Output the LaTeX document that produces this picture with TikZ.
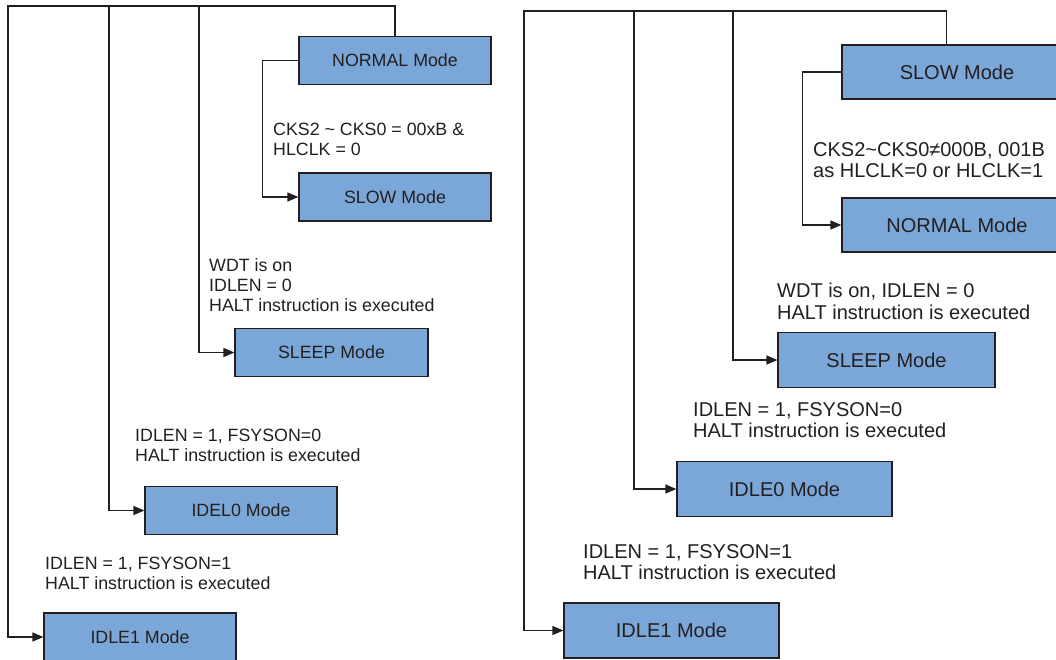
\documentclass[tikz,border=0pt]{standalone}
\usepackage{fontspec}
\setmainfont{Liberation Sans}
\usetikzlibrary{arrows.meta}
\definecolor{modeblue}{HTML}{7BA7D8}
\definecolor{ink}{HTML}{231F20}

\begin{document}
\begin{tikzpicture}[
        x=1pt, y=-1pt,
        color=ink,
        mode/.style={rectangle, draw=ink, line width=1.2pt, fill=modeblue, inner sep=0pt, align=center},
        smallmode/.style={mode, minimum width=192pt, minimum height=48pt, font=\fontsize{17.8}{20}\selectfont},
        bigmode/.style={mode, minimum height=54pt, font=\fontsize{20}{22}\selectfont},
        cond/.style={anchor=north west, inner sep=0pt, align=left},
        smallcond/.style={cond, font=\fontsize{17.8}{20}\selectfont},
        bigcond/.style={cond, font=\fontsize{20}{21.5}\selectfont},
        wire/.style={line width=1.4pt},
        arrow/.style={wire, -{Triangle[length=11pt,width=9pt]}}
    ]
    \clip (0,0) rectangle (1056,659);

    % left: mode change from NORMAL
    \node (normL) [smallmode] at (395,60.5) {NORMAL Mode};
    \node (slowL) [smallmode] at (395,197) {SLOW Mode};
    \node (sleepL) [smallmode, minimum width=193pt] at (331.5,352.5) {SLEEP Mode};
    \node (idle0L) [smallmode] at (241,510.5) {IDEL0 Mode};
    \node (idle1L) [smallmode] at (140,637) {IDLE1 Mode};

    \node (c1L) [smallcond] at (273,123) {CKS2 \textasciitilde{} CKS0 = 00xB \&\\HLCLK = 0};
    \node (c2L) [smallcond] at (209,258) {WDT is on\\IDLEN = 0\\HALT instruction is executed};
    \node (c3L) [smallcond] at (135,429) {IDLEN = 1, FSYSON=0\\HALT instruction is executed};
    \node (c4L) [smallcond] at (45,557) {IDLEN = 1, FSYSON=1\\HALT instruction is executed};

    \coordinate (busL) at (8,6);
    \coordinate (tap1L) at (109,6);
    \coordinate (tap2L) at (199,6);

    \draw [arrow] (normL.north) |- (busL) |- (idle1L.west);
    \draw [arrow] (tap1L) |- (idle0L.west);
    \draw [arrow] (tap2L) |- (sleepL.west);
    \draw [arrow] (normL.west) -- ++(-36,0) |- (slowL.west);

    % right: mode change from SLOW
    \node (slowR) [bigmode, minimum width=230pt] at (957,72) {SLOW Mode};
    \node (normR) [bigmode, minimum width=230pt] at (957,225) {NORMAL Mode};
    \node (sleepR) [bigmode, minimum width=217pt, minimum height=55pt] at (886.5,360) {SLEEP Mode};
    \node (idle0R) [bigmode, minimum width=215pt, minimum height=55pt] at (784.5,489) {IDLE0 Mode};
    \node (idle1R) [bigmode, minimum width=215pt, minimum height=55pt] at (671.5,630.5) {IDLE1 Mode};

    \node (c1R) [bigcond] at (813,142) {CKS2\textasciitilde CKS0≠000B, 001B\\as HLCLK=0 or HLCLK=1};
    \node (c2R) [bigcond] at (777,283) {WDT is on, IDLEN = 0\\HALT instruction is executed};
    \node (c3R) [bigcond] at (693,402) {IDLEN = 1, FSYSON=0\\HALT instruction is executed};
    \node (c4R) [bigcond] at (583,544) {IDLEN = 1, FSYSON=1\\HALT instruction is executed};

    \coordinate (busR) at (524,11);
    \coordinate (tap1R) at (634,11);
    \coordinate (tap2R) at (733,11);

    \draw [arrow] ([xshift=105pt]slowR.north west) |- (busR) |- (idle1R.west);
    \draw [arrow] (tap1R) |- (idle0R.west);
    \draw [arrow] (tap2R) |- (sleepR.west);
    \draw [arrow] (slowR.west) -- ++(-39,0) |- (normR.west);
\end{tikzpicture}
\end{document}
